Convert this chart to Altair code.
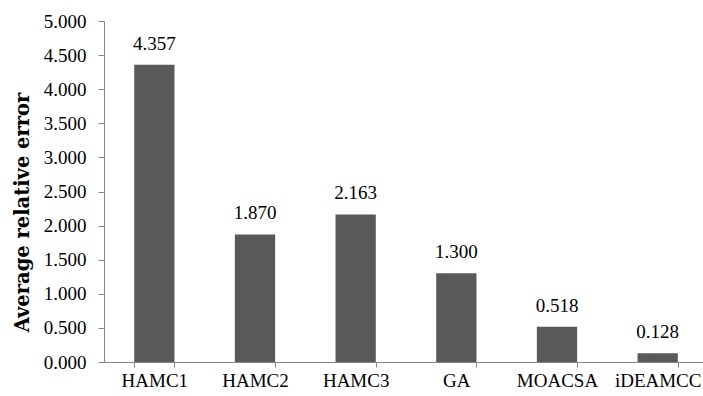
import altair as alt
import pandas as pd

methods = ["HAMC1", "HAMC2", "HAMC3", "GA", "MOACSA", "iDEAMCC"]
errors = [4.357, 1.870, 2.163, 1.300, 0.518, 0.128]
y_ticks = [0.0, 0.5, 1.0, 1.5, 2.0, 2.5, 3.0, 3.5, 4.0, 4.5, 5.0]

df = pd.DataFrame({"method": methods, "error": errors})

FONT = "Liberation Serif"
TITLE_FONT = "DejaVu Serif"
AXIS_GRAY = "#868686"

x = alt.X(
    "method:N",
    sort=methods,
    title=None,
    scale=alt.Scale(paddingInner=0.6, paddingOuter=0.3, range=[0, 604]),
    axis=alt.Axis(
        labelAngle=0,
        tickBand="extent",
        labelFont=FONT,
        labelFontSize=19,
        labelColor="black",
        domainColor=AXIS_GRAY,
        tickColor=AXIS_GRAY,
        tickSize=5,
        labelPadding=4,
        grid=False,
    ),
)

y = alt.Y(
    "error:Q",
    scale=alt.Scale(domain=[0, 5], nice=False),
    axis=alt.Axis(
        values=y_ticks,
        format=".3f",
        title="Average relative error",
        titleFont=TITLE_FONT,
        titleFontSize=19.5,
        titleFontWeight="bold",
        titleColor="black",
        titleX=-76,
        titleY=191,
        titleBaseline="alphabetic",
        labelFont=FONT,
        labelFontSize=19,
        labelColor="black",
        labelPadding=12,
        tickSize=6,
        domainColor=AXIS_GRAY,
        tickColor=AXIS_GRAY,
        grid=False,
    ),
)

bars = alt.Chart(df).mark_bar(color="#595959").encode(x=x, y=y)

labels = alt.Chart(df).mark_text(
    baseline="alphabetic", dy=-15, font=FONT, fontSize=19, color="black"
).encode(x=x, y=y, text=alt.Text("error:Q", format=".3f"))

chart = (
    alt.layer(bars, labels)
    .properties(
        width=599,
        height=341,
        autosize=alt.AutoSizeParams(type="none"),
        padding={"left": 104, "top": 21, "right": 0, "bottom": 34},
        background="white",
    )
    .configure_view(stroke=None)
)

chart.save("out.html", embed_options={"renderer": "svg", "actions": False})
